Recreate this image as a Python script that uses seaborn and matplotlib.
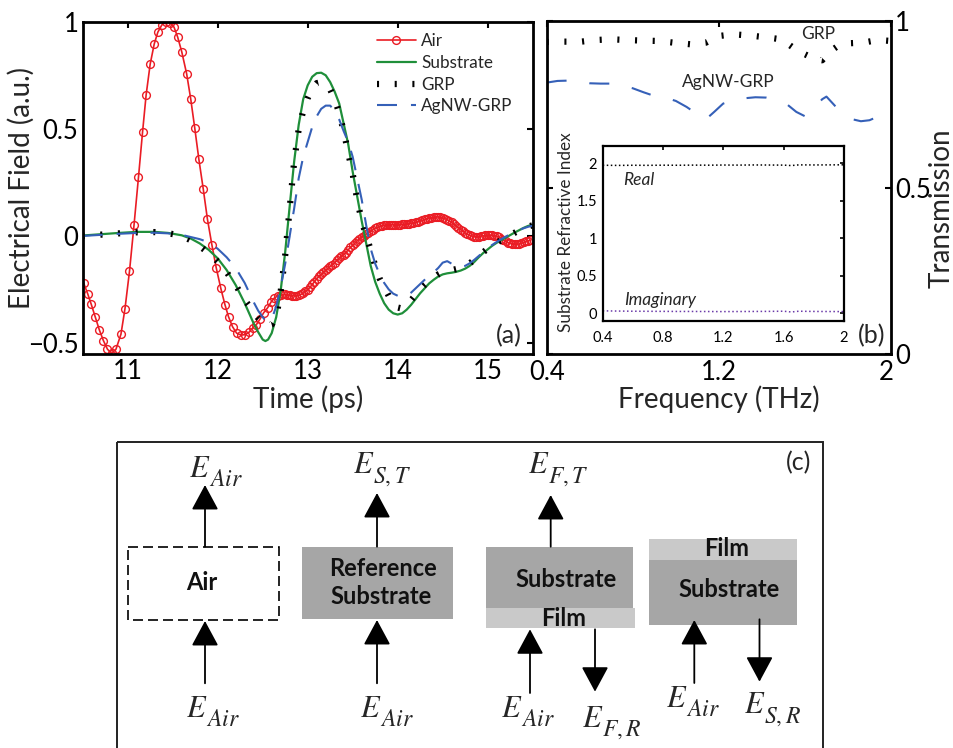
import numpy as np
import matplotlib
matplotlib.use("Agg")
import matplotlib.pyplot as plt
import matplotlib.transforms as mtransforms
import seaborn as sns
from matplotlib.patches import Rectangle, FancyArrowPatch

sns.set_style("white")
plt.rcParams['font.family'] = ['Lato', 'DejaVu Sans']
plt.rcParams['mathtext.fontset'] = 'stix'
plt.rcParams['axes.unicode_minus'] = True

# ---------------- data: panel (a) ----------------
air_time_sparse = [10.51, 10.555, 10.595, 10.64, 10.685, 10.73, 10.775, 10.82, 10.87, 10.925,
                   10.97, 11.02, 11.07, 11.12, 11.165, 11.205, 11.25, 11.295, 11.335, 11.38,
                   11.425, 11.47, 11.515, 11.555, 11.60, 11.655, 11.70, 11.745, 11.79, 11.84,
                   11.885, 11.935, 11.985, 12.035, 12.08, 12.12, 12.165, 12.21, 12.26, 12.305,
                   12.35, 12.39, 12.43, 12.47, 12.51, 12.555, 12.595, 12.63]
air_field_sparse = [-0.22, -0.27, -0.32, -0.38, -0.44, -0.49, -0.53, -0.55, -0.53, -0.46,
                    -0.34, -0.165, 0.05, 0.276, 0.486, 0.661, 0.805, 0.899, 0.954, 0.988,
                    1.0, 0.998, 0.977, 0.931, 0.863, 0.759, 0.642, 0.505, 0.361, 0.218,
                    0.081, -0.041, -0.152, -0.246, -0.321, -0.378, -0.425, -0.455, -0.464, -0.462,
                    -0.45, -0.43, -0.415, -0.389, -0.36, -0.336, -0.308, -0.29]
# densely sampled tail (every 0.025 ps from 12.675 ps)
air_dense_start = 12.675
air_dense_step = 0.025
air_field_dense = [-0.279, -0.276, -0.274, -0.274, -0.276, -0.277, -0.279, -0.280, -0.280, -0.278,
                   -0.274, -0.268, -0.260, -0.251, -0.241, -0.227, -0.214, -0.201, -0.189, -0.180,
                   -0.170, -0.161, -0.152, -0.143, -0.134, -0.125, -0.114, -0.104, -0.095, -0.087,
                   -0.078, -0.065, -0.053, -0.044, -0.034, -0.023, -0.013, -0.005, 0.002, 0.008,
                   0.016, 0.022, 0.029, 0.036, 0.041, 0.045, 0.048, 0.050, 0.052, 0.053,
                   0.053, 0.053, 0.053, 0.053, 0.053, 0.054, 0.055, 0.056, 0.058, 0.060,
                   0.062, 0.064, 0.067, 0.070, 0.073, 0.077, 0.081, 0.084, 0.086, 0.088,
                   0.089, 0.089, 0.088, 0.085, 0.081, 0.076, 0.070, 0.063, 0.055, 0.047,
                   0.039, 0.030, 0.022, 0.014, 0.008, 0.003, 0.000, -0.003, -0.004, -0.003,
                   -0.001, 0.001, 0.003, 0.004, 0.004, 0.003, 0.001, -0.001, -0.006, -0.012,
                   -0.019, -0.026, -0.031, -0.035, -0.038, -0.040, -0.040, -0.037, -0.034, -0.030,
                   -0.026, -0.023, -0.020]

ref_time = [10.50, 10.70, 10.90, 11.10, 11.30, 11.45, 11.60, 11.70, 11.80, 11.90,
            12.00, 12.10, 12.20, 12.30, 12.40, 12.45, 12.50, 12.53, 12.56, 12.60,
            12.65, 12.70, 12.75, 12.80, 12.85, 12.90, 12.95, 13.00, 13.05, 13.10,
            13.15, 13.20, 13.25, 13.30, 13.35, 13.40, 13.45, 13.50, 13.55, 13.60,
            13.65, 13.70, 13.75, 13.80, 13.85, 13.90, 13.95, 14.00, 14.05, 14.10,
            14.15, 14.20, 14.25, 14.30, 14.35, 14.40, 14.45, 14.50, 14.55, 14.60,
            14.65, 14.70, 14.75, 14.80, 14.85, 14.90, 14.95, 15.00, 15.05, 15.10,
            15.15, 15.20, 15.25, 15.30, 15.35, 15.40, 15.45, 15.50]
substrate_field = [0.002, 0.008, 0.014, 0.019, 0.019, 0.014, 0.003, -0.012, -0.035, -0.065,
                   -0.105, -0.16, -0.23, -0.315, -0.41, -0.45, -0.485, -0.492, -0.485, -0.455,
                   -0.38, -0.255, -0.075, 0.14, 0.35, 0.52, 0.64, 0.705, 0.745, 0.762,
                   0.764, 0.752, 0.72, 0.675, 0.62, 0.525, 0.43, 0.30, 0.185, 0.07,
                   -0.035, -0.14, -0.215, -0.27, -0.315, -0.345, -0.362, -0.368, -0.362, -0.345,
                   -0.322, -0.295, -0.268, -0.245, -0.222, -0.205, -0.19, -0.18, -0.175, -0.172,
                   -0.168, -0.162, -0.153, -0.14, -0.122, -0.10, -0.08, -0.063, -0.046, -0.032,
                   -0.02, -0.008, 0.004, 0.016, 0.027, 0.038, 0.047, 0.052]
grp_field = [0.0, 0.006, 0.012, 0.017, 0.018, 0.013, 0.0, -0.02, -0.048, -0.08,
             -0.12, -0.17, -0.23, -0.3, -0.355, -0.385, -0.405, -0.415, -0.42, -0.415,
             -0.38, -0.26, -0.09, 0.13, 0.35, 0.50, 0.585, 0.645, 0.69, 0.715,
             0.72, 0.71, 0.685, 0.64, 0.575, 0.49, 0.39, 0.29, 0.17, 0.07,
             0.0, -0.065, -0.14, -0.20, -0.24, -0.28, -0.315, -0.335, -0.34, -0.325,
             -0.30, -0.275, -0.25, -0.228, -0.21, -0.195, -0.18, -0.17, -0.165, -0.16,
             -0.155, -0.148, -0.14, -0.128, -0.112, -0.094, -0.076, -0.06, -0.045, -0.032,
             -0.02, -0.008, 0.004, 0.015, 0.026, 0.036, 0.044, 0.05]
agnw_field = [0.0, 0.005, 0.01, 0.014, 0.015, 0.012, 0.005, -0.005, -0.015, -0.03,
              -0.06, -0.1, -0.15, -0.22, -0.31, -0.35, -0.38, -0.395, -0.40, -0.39,
              -0.33, -0.24, -0.13, 0.0, 0.13, 0.27, 0.37, 0.44, 0.51, 0.56,
              0.595, 0.61, 0.61, 0.585, 0.545, 0.49, 0.44, 0.37, 0.27, 0.17,
              0.05, -0.06, -0.13, -0.18, -0.22, -0.25, -0.27, -0.28, -0.285, -0.28,
              -0.265, -0.245, -0.225, -0.205, -0.185, -0.17, -0.15, -0.125, -0.118, -0.13,
              -0.145, -0.145, -0.14, -0.128, -0.112, -0.094, -0.076, -0.058, -0.042, -0.028,
              -0.015, -0.003, 0.008, 0.018, 0.028, 0.036, 0.043, 0.048]

# ---------------- data: panel (b) ----------------
freq_grp = [0.40, 0.48, 0.56, 0.63, 0.70, 0.77, 0.85, 0.92, 0.99, 1.07, 1.14, 1.20,
            1.27, 1.35, 1.42, 1.49, 1.55, 1.60, 1.65, 1.68, 1.72, 1.76, 1.80, 1.87, 1.94, 2.00]
trans_grp = [0.937, 0.938, 0.938, 0.943, 0.945, 0.943, 0.941, 0.940, 0.935, 0.930, 0.935, 0.955,
             0.960, 0.956, 0.951, 0.945, 0.918, 0.900, 0.885, 0.882, 0.910, 0.928, 0.933, 0.935, 0.943, 0.940]
freq_agnw = [0.40, 0.45, 0.50, 0.55, 0.60, 0.65, 0.70, 0.75, 0.80, 0.85, 0.90, 0.95,
             1.00, 1.05, 1.10, 1.14, 1.18, 1.22, 1.27, 1.32, 1.37, 1.42, 1.47, 1.52,
             1.56, 1.60, 1.64, 1.68, 1.70, 1.74, 1.78, 1.82, 1.86, 1.90, 1.95, 2.00]
trans_agnw = [0.815, 0.820, 0.821, 0.818, 0.813, 0.812, 0.812, 0.806, 0.798, 0.786, 0.775, 0.770,
              0.760, 0.742, 0.720, 0.705, 0.728, 0.752, 0.763, 0.768, 0.771, 0.770, 0.763, 0.748,
              0.727, 0.714, 0.735, 0.765, 0.773, 0.745, 0.720, 0.705, 0.699, 0.702, 0.716, 0.710]

# inset: substrate refractive index
freq_n = [0.40, 0.50, 0.60, 0.70, 0.80, 0.90, 1.00, 1.10, 1.20, 1.30, 1.40, 1.50,
          1.60, 1.65, 1.70, 1.80, 1.90, 2.00]
n_real = [1.970, 1.968, 1.970, 1.969, 1.971, 1.970, 1.972, 1.971, 1.973, 1.972, 1.974, 1.973,
          1.972, 1.966, 1.975, 1.974, 1.975, 1.976]
n_imag = [0.035, 0.032, 0.030, 0.029, 0.028, 0.027, 0.027, 0.026, 0.025, 0.026, 0.027, 0.028,
          0.030, 0.020, 0.030, 0.027, 0.026, 0.025]

W, H = 954, 748
fig = plt.figure(figsize=(W / 100, H / 100), dpi=100)


def px_axes(l, t, r, b):
    return fig.add_axes([l / W, 1 - b / H, (r - l) / W, (b - t) / H])


# ---------------- panel (c) diagram (pixel coordinates) ----------------
axd = fig.add_axes([0, 0, 1, 1])
axd.set_xlim(0, W)
axd.set_ylim(H, 0)
axd.axis('off')

axd.add_patch(Rectangle((117, 441.7), 706, 330, fill=False, lw=1.4, ec='#222222'))
axd.add_patch(Rectangle((127.6, 546.7), 151.4, 73.3, fill=False, lw=1.2, ec='black',
                        ls=(0, (6, 3))))
sub_gray, film_gray = '#a6a6a6', '#c9c9c9'
axd.add_patch(Rectangle((302, 546.7), 150.6, 72.6, fc=sub_gray, ec='none'))
axd.add_patch(Rectangle((486, 546.7), 147, 61.6, fc=sub_gray, ec='none'))
axd.add_patch(Rectangle((486, 608.3), 149.5, 20, fc=film_gray, ec='none'))
axd.add_patch(Rectangle((649, 539.3), 148.5, 20.7, fc=film_gray, ec='none'))
axd.add_patch(Rectangle((649, 560), 148.5, 65, fc=sub_gray, ec='none'))

bold_kw = dict(fontsize=17, fontweight='bold', ha='center', va='center', color='#111111')
axd.text(202, 582, 'Air', **bold_kw)
axd.text(383, 568.3, 'Reference', **bold_kw)
axd.text(381, 597, 'Substrate', **bold_kw)
axd.text(566, 579.3, 'Substrate', **bold_kw)
axd.text(563.7, 618.3, 'Film', **bold_kw)
axd.text(726.7, 548.5, 'Film', **bold_kw)
axd.text(729, 589.3, 'Substrate', **bold_kw)

arrows = [((205, 546.7), (205, 485)), ((205, 683.3), (205, 621)),
          ((377, 546.7), (377, 493)), ((377, 683.3), (377, 620)),
          ((550.7, 546.7), (550.7, 495)), ((530, 693), (530, 629.3)),
          ((595, 629.3), (595, 691.7)), ((694.3, 683), (694.3, 620)),
          ((759.5, 619.3), (759.5, 681.7))]
for base, tip in arrows:
    axd.add_patch(FancyArrowPatch(base, tip, arrowstyle='-|>,head_length=0.78,head_width=0.42',
                                  mutation_scale=20, color='black', lw=1.3,
                                  shrinkA=0, shrinkB=0))

# E labels: main letter plus a larger-than-default italic subscript
e_labels = [(188.7, 476.7, 'Air'), (353, 473.3, 'S,T'), (528, 473.3, 'F,T'),
            (186.4, 716.7, 'Air'), (360, 716.7, 'Air'), (501.2, 716.7, 'Air'),
            (582.2, 726.7, 'F,R'), (665.6, 706.7, 'Air'), (744.3, 713.3, 'S,R')]
for ex, ey, sub in e_labels:
    axd.text(ex, ey, r'$E$', fontsize=22, ha='left', va='baseline')
    axd.text(ex + 20, ey + 9, r'$%s$' % sub, fontsize=17, ha='left', va='baseline')
axd.text(811, 470, '(c)', fontsize=18, ha='right', va='baseline')

# ---------------- panel (a) ----------------
TICK_FS = 18.5
LABEL_FS = 20
ax = px_axes(82.7, 22.3, 532.7, 354.3)
air_time = list(air_time_sparse) + list(np.round(air_dense_start + air_dense_step *
                                                 np.arange(len(air_field_dense)), 3))
air_field = list(air_field_sparse) + list(air_field_dense)

red, green, blue = '#ea1c24', '#1f8f3a', '#3560b8'
sns.lineplot(x=air_time, y=air_field, ax=ax, color=red, lw=1.2, marker='o', markersize=5.6,
             markerfacecolor='none', markeredgecolor=red, markeredgewidth=1.0,
             sort=False, estimator=None, label='Air')
sns.lineplot(x=ref_time, y=substrate_field, ax=ax, color=green, lw=1.6,
             sort=False, estimator=None, label='Substrate')
sns.lineplot(x=ref_time, y=grp_field, ax=ax, color='black', lw=4.5,
             sort=False, estimator=None, label='GRP')
ax.lines[-1].set_dashes([0.33, 2.5])
sns.lineplot(x=ref_time, y=agnw_field, ax=ax, color=blue, lw=1.5,
             sort=False, estimator=None, label='AgNW-GRP')
ax.lines[-1].set_dashes([9.6, 6.7])

ax.set_xlim(10.5, 15.5)
ax.set_ylim(-0.554, 1.0)
ax.set_xticks([11, 12, 13, 14, 15])
ax.set_xticklabels(['11', '12', '13', '14', '15'])
ax.set_yticks([-0.5, 0, 0.5, 1])
ax.set_yticklabels(['\u22120.5', '0', '0.5', '1'])
ax.set_xlabel('')
ax.set_ylabel('')
ax.tick_params(direction='in', length=4.5, width=1.5, top=True, right=True,
               labelsize=TICK_FS, colors='black')
ax.tick_params(axis='x', pad=3.5)
ax.tick_params(axis='y', pad=3)
for s in ax.spines.values():
    s.set_linewidth(2.0)
    s.set_color('black')
ax.legend(ax.lines[:4], ['Air', 'Substrate', 'GRP', 'AgNW-GRP'], loc='upper left',
          bbox_to_anchor=(0.653, 0.968), frameon=False, fontsize=12.3, handlelength=2.3,
          handletextpad=0.3, labelspacing=0.34, borderpad=0, borderaxespad=0, numpoints=1)
ax.text(0.9756, 0.034, '(a)', transform=ax.transAxes, ha='right', va='baseline', fontsize=18)

fig.text(30 / W, 1 - 188 / H, 'Electrical Field (a.u.)', rotation=90, rotation_mode='anchor',
         ha='center', va='baseline', fontsize=LABEL_FS)
fig.text(307.7 / W, 1 - 408 / H, 'Time (ps)', ha='center', va='baseline', fontsize=LABEL_FS)

# ---------------- panel (b) ----------------
axb = px_axes(546.7, 21, 891, 354)
sns.lineplot(x=freq_grp, y=trans_grp, ax=axb, color='black', lw=4.5, sort=False, estimator=None)
axb.lines[-1].set_dashes([0.33, 2.5])
sns.lineplot(x=freq_agnw, y=trans_agnw, ax=axb, color=blue, lw=1.5, sort=False, estimator=None)
axb.lines[-1].set_dashes([9.6, 11])
axb.set_xlim(0.4, 2.0)
axb.set_ylim(0, 1)
axb.set_xticks([0.4, 1.2, 2.0])
axb.set_xticklabels(['0.4', '1.2', '2'])
axb.set_yticks([0, 0.5, 1])
axb.set_yticklabels(['0', '0.5', '1'])
axb.set_xlabel('')
axb.set_ylabel('')
axb.tick_params(direction='in', length=4.5, width=1.5, top=True, right=True, left=True,
                labelleft=False, labelright=True, labelsize=TICK_FS, colors='black')
axb.tick_params(axis='x', pad=4)
axb.tick_params(axis='y', pad=3)
# the last frequency label sits just left of the corner, as in the original
last_xlabel = axb.get_xticklabels()[-1]
last_xlabel.set_transform(last_xlabel.get_transform() +
                          mtransforms.ScaledTranslation(-5 / 100, 0, fig.dpi_scale_trans))
for s in axb.spines.values():
    s.set_linewidth(2.0)
    s.set_color('black')
axb.text(1.662, 0.946, 'GRP', ha='center', va='baseline', fontsize=12.5)
axb.text(1.244, 0.801, 'AgNW-GRP', ha='center', va='baseline', fontsize=12.5)
axb.text(0.9826, 0.033, '(b)', transform=axb.transAxes, ha='right', va='baseline', fontsize=18)
fig.text(718.8 / W, 1 - 408 / H, 'Frequency (THz)', ha='center', va='baseline', fontsize=LABEL_FS)
fig.text(950 / W, 1 - 208 / H, 'Transmission', rotation=90, rotation_mode='anchor',
         ha='center', va='baseline', fontsize=LABEL_FS)

# ---------------- inset ----------------
axi = px_axes(602.7, 145.7, 844, 321)
sns.lineplot(x=freq_n, y=n_real, ax=axi, color='black', lw=1.1, sort=False, estimator=None)
axi.lines[-1].set_linestyle(':')
sns.lineplot(x=freq_n, y=n_imag, ax=axi, color='#6a3aa8', lw=1.1, sort=False, estimator=None)
axi.lines[-1].set_linestyle(':')
axi.set_xlim(0.4, 2.0)
axi.set_ylim(-0.1, 2.23)
axi.set_xticks([0.4, 0.8, 1.2, 1.6, 2.0])
axi.set_xticklabels(['0.4', '0.8', '1.2', '1.6', '2'])
axi.set_yticks([0, 0.5, 1, 1.5, 2])
axi.set_yticklabels(['0', '0.5', '1', '1.5', '2'])
axi.set_xlabel('')
axi.set_ylabel('')
axi.tick_params(direction='in', length=3, width=1.2, top=True, right=True,
                labelsize=10.5, colors='black')
axi.tick_params(axis='x', pad=7)
axi.tick_params(axis='y', pad=4)
for s in axi.spines.values():
    s.set_linewidth(1.6)
    s.set_color('black')
axi.text(0.533, 1.707, 'Real', style='italic', fontsize=12.5, ha='left', va='baseline')
axi.text(0.543, 0.112, 'Imaginary', style='italic', fontsize=12.5, ha='left', va='baseline')
fig.text(571 / W, 1 - 232.5 / H, 'Substrate Refractive Index', rotation=90,
         rotation_mode='anchor', ha='center', va='baseline', fontsize=12.3)

fig.savefig('out.png', dpi=100)
